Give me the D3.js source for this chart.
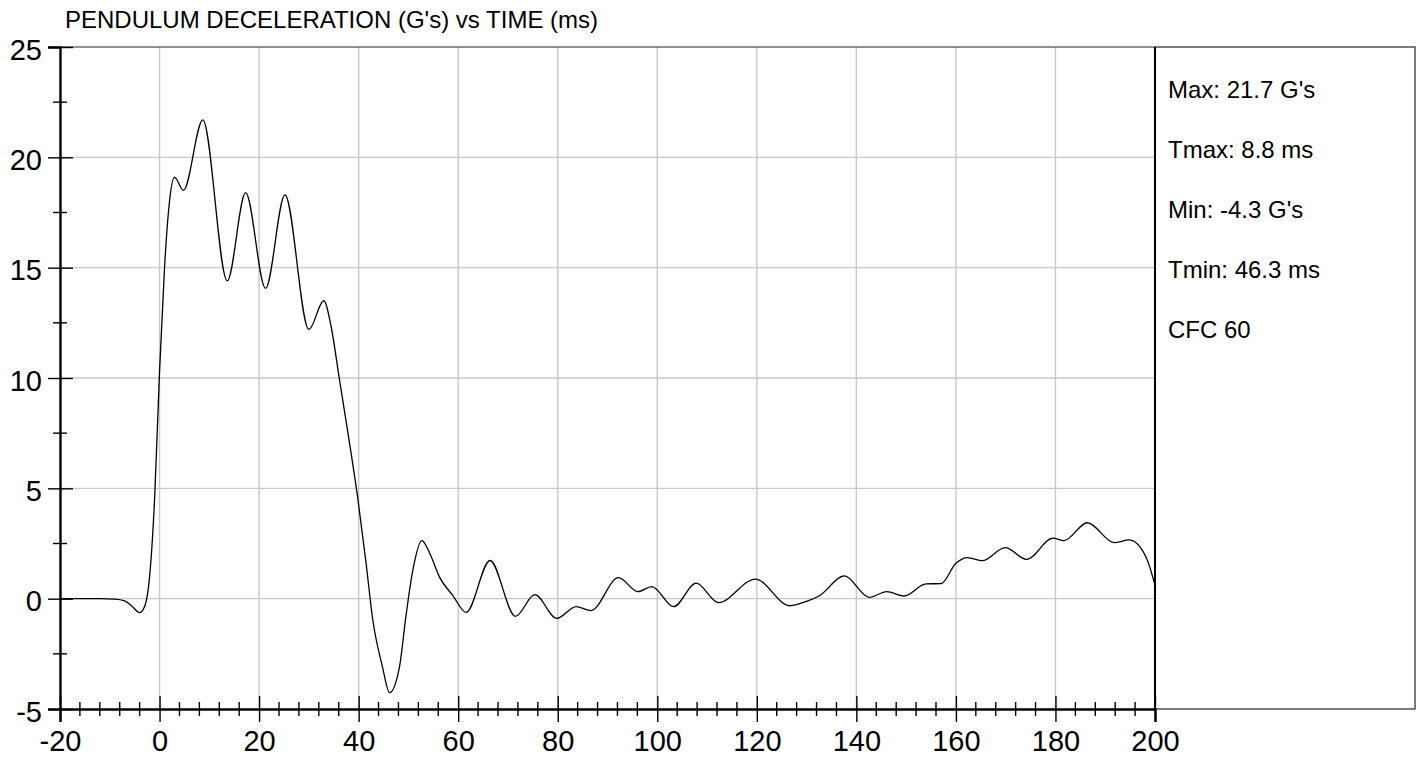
<!DOCTYPE html>
<html>
<head>
<meta charset="utf-8">
<script src="https://cdn.jsdelivr.net/npm/d3@7"></script>
<style>
  html, body { margin: 0; padding: 0; background: #ffffff; }
  svg { display: block; font-family: "Liberation Sans", Arial, sans-serif; }
</style>
</head>
<body>
<svg id="chart" width="1421" height="759"></svg>
<script>
// ---- Data ----
const titleText = "PENDULUM DECELERATION (G's) vs TIME (ms)";
const statsLines = ["Max: 21.7 G's", "Tmax: 8.8 ms", "Min: -4.3 G's", "Tmin: 46.3 ms", "CFC 60"];

const xMajorTicks = [-20, 0, 20, 40, 60, 80, 100, 120, 140, 160, 180, 200];
const yMajorTicks = [-5, 0, 5, 10, 15, 20, 25];
const xGridValues = [0, 20, 40, 60, 80, 100, 120, 140, 160, 180];
const yGridValues = [0, 5, 10, 15, 20];

const timeMs = [-20,-12,-9,-7,-5.5,-4,-3,-2,-1,0,1,2,3,4.8,8.7,13.6,17.3,21.3,25.2,30,33,34.5,36.1,38,39.8,41.5,42.8,44.8,46.2,48.2,49.5,50.9,52.7,54.3,56.2,58.9,61.6,66.4,71.5,75.4,79.8,83.7,86.7,92.2,96.1,98.9,103.3,107.8,112.3,119.7,126.6,130,132.5,137.6,142.6,146.1,149.6,154,157,160,162.3,165.3,169.9,174.2,179.5,181.7,186.4,191.8,194.8,197.2,198.7,200];
const accelG = [0,0,-0.02,-0.1,-0.35,-0.63,-0.35,1.0,4.5,10.3,15.0,18.0,19.1,18.5,21.7,14.4,18.4,14.06,18.3,12.2,13.5,12.3,10.0,7.3,4.6,1.6,-0.9,-3.1,-4.26,-3.1,-0.8,1.3,2.63,2.05,1.0,0.15,-0.62,1.73,-0.8,0.18,-0.89,-0.36,-0.54,0.95,0.32,0.55,-0.36,0.7,-0.18,0.89,-0.32,-0.12,0.12,1.03,0.06,0.32,0.12,0.67,0.68,1.6,1.86,1.72,2.31,1.78,2.74,2.63,3.44,2.54,2.66,2.28,1.6,0.6];

// ---- Layout ----
const svg = d3.select("#chart");
const pLeft = 60, pRight = 1155, pTop = 47, pBottom = 709;
const boxRight = 1415;

const x = d3.scaleLinear().domain([-20, 200]).range([pLeft, pRight]);
const y = d3.scaleLinear().domain([-5, 25]).range([pBottom, pTop]);

const xMinor = d3.range(-20, 200.001, 4).filter(v => !xMajorTicks.includes(v));
const yMinor = d3.range(-2.5, 25, 5);
const fmt = d => String(d);

// stats panel
svg.append("rect")
  .attr("x", pRight).attr("y", pTop)
  .attr("width", boxRight - pRight).attr("height", pBottom - pTop)
  .attr("fill", "none").attr("stroke", "#222").attr("stroke-width", 1.2);

// gridlines
svg.append("g").selectAll("line").data(xGridValues).join("line")
  .attr("x1", d => x(d)).attr("x2", d => x(d))
  .attr("y1", pTop).attr("y2", pBottom)
  .attr("stroke", "#c8c8c8").attr("stroke-width", 1.4);
svg.append("g").selectAll("line").data(yGridValues).join("line")
  .attr("x1", pLeft).attr("x2", pRight)
  .attr("y1", d => y(d)).attr("y2", d => y(d))
  .attr("stroke", "#c8c8c8").attr("stroke-width", 1.4);

// top border of plot
svg.append("line").attr("x1", pLeft).attr("x2", pRight)
  .attr("y1", pTop).attr("y2", pTop).attr("stroke", "#222").attr("stroke-width", 1.2);

// curve
const line = d3.line()
  .x((d, i) => x(timeMs[i]))
  .y(d => y(d))
  .curve(d3.curveMonotoneX);
svg.append("path").datum(accelG)
  .attr("d", line)
  .attr("fill", "none").attr("stroke", "#000").attr("stroke-width", 1.3);

// right border of plot (at x=200)
svg.append("line").attr("x1", x(200)).attr("x2", x(200))
  .attr("y1", pTop).attr("y2", pBottom).attr("stroke", "#000").attr("stroke-width", 2);

// X axis
const xAxis = svg.append("g").attr("transform", `translate(0,${pBottom})`)
  .call(d3.axisBottom(x).tickValues(xMajorTicks).tickSize(13).tickFormat(fmt));
xAxis.select(".domain").attr("stroke", "#000").attr("stroke-width", 2.4);
xAxis.selectAll(".tick line").attr("y1", -13).attr("y2", 13).attr("stroke", "#000").attr("stroke-width", 1.4);
xAxis.selectAll(".tick text").attr("y", 42).attr("dy", 0)
  .attr("font-size", 29).attr("fill", "#000").attr("font-family", "Liberation Sans, Arial, sans-serif");
svg.append("g").selectAll("line").data(xMinor).join("line")
  .attr("x1", d => x(d)).attr("x2", d => x(d))
  .attr("y1", pBottom - 7).attr("y2", pBottom + 7)
  .attr("stroke", "#000").attr("stroke-width", 1.4);

// Y axis
const yAxis = svg.append("g").attr("transform", `translate(${pLeft},0)`)
  .call(d3.axisLeft(y).tickValues(yMajorTicks).tickSize(12).tickFormat(fmt));
yAxis.select(".domain").attr("stroke", "#000").attr("stroke-width", 2.4);
yAxis.selectAll(".tick line").attr("x1", -12).attr("x2", 13).attr("stroke", "#000").attr("stroke-width", 1.4);
yAxis.selectAll(".tick text").attr("x", -18).attr("dy", 0).attr("y", 12)
  .attr("font-size", 29).attr("fill", "#000").attr("font-family", "Liberation Sans, Arial, sans-serif");
svg.append("g").selectAll("line").data(yMinor).join("line")
  .attr("x1", pLeft - 7).attr("x2", pLeft + 7)
  .attr("y1", d => y(d)).attr("y2", d => y(d))
  .attr("stroke", "#000").attr("stroke-width", 1.4);

// title
svg.append("text").attr("x", 65).attr("y", 28)
  .attr("font-size", 24).attr("fill", "#000").text(titleText);

// stats text
svg.append("g").selectAll("text").data(statsLines).join("text")
  .attr("x", 1168).attr("y", (d, i) => 97.5 + i * 60)
  .attr("font-size", 24).attr("fill", "#000").text(d => d);
</script>
</body>
</html>
